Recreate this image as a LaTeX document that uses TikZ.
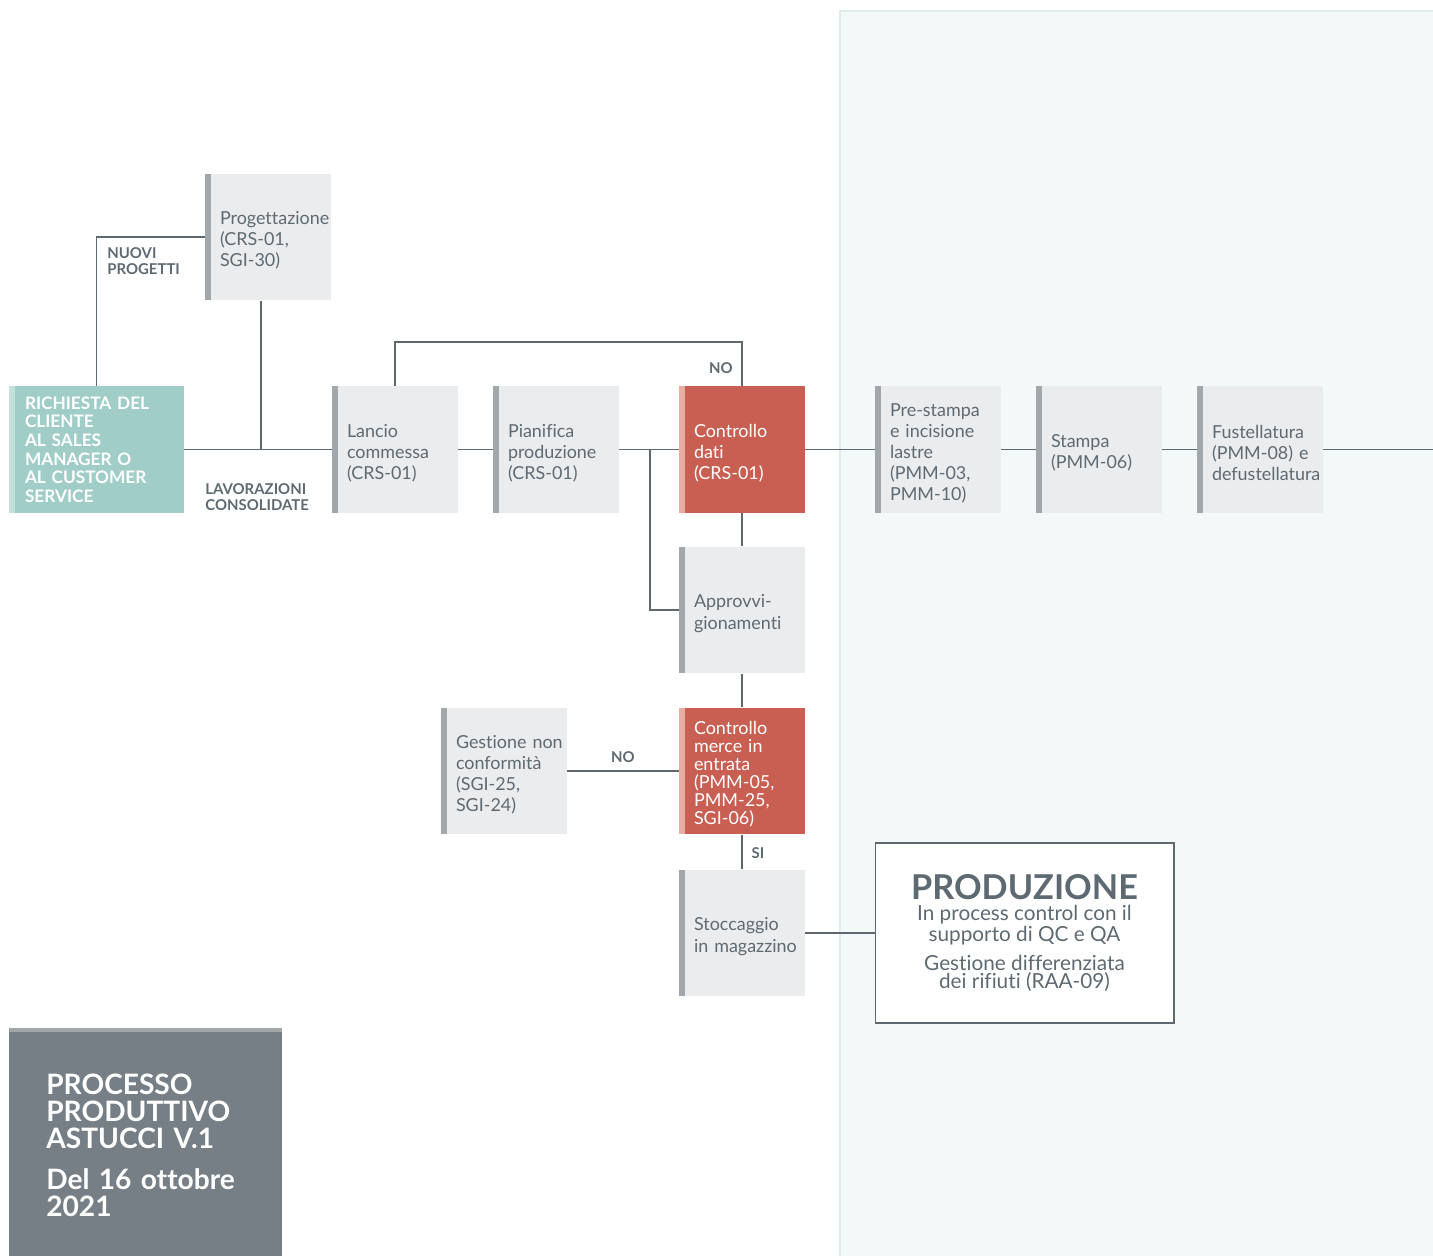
\documentclass[tikz,border=0pt]{standalone}
\usepackage{fontspec}
\setmainfont{Lato}[Ligatures=NoCommon]
\usepackage{tikz}
\usepackage{xcolor}

\definecolor{boxgray}{HTML}{EBECEE}
\definecolor{bargray}{HTML}{A2A7AB}
\definecolor{wiregray}{HTML}{5D6870}
\definecolor{textgray}{HTML}{5E6A72}
\definecolor{redbox}{HTML}{C95F52}
\definecolor{redbar}{HTML}{E6ADA3}
\definecolor{tealbox}{HTML}{A0CDC8}
\definecolor{tealbar}{HTML}{C2E0DC}
\definecolor{titlegray}{HTML}{767F85}
\definecolor{panel}{HTML}{F3F8F8}
\definecolor{panelline}{HTML}{E0EBEB}

\begin{document}
\begin{tikzpicture}[x=0.02cm, y=-0.02cm,
    stepbox/.style={rectangle, fill=boxgray, minimum width=2.52cm, minimum height=2.54cm,
        text width=2.52cm, inner xsep=0pt, inner ysep=0pt, align=left, text=textgray,
        font=\fontsize{10.2}{12}\selectfont,
        execute at begin node={\leftskip=0.3cm\rightskip=0pt plus 1fil\relax\rule{0pt}{11.5pt}},
        path picture={\fill[bargray] (path picture bounding box.north west)
            rectangle ([xshift=0.12cm]path picture bounding box.south west);}},
    checkbox/.style={stepbox, fill=redbox, text=white,
        path picture={\fill[redbar] (path picture bounding box.north west)
            rectangle ([xshift=0.12cm]path picture bounding box.south west);}},
    wire/.style={draw=wiregray, line width=0.7pt},
    tag/.style={text=textgray, font=\fontsize{8.5}{9.2}\selectfont\bfseries, inner sep=0pt, align=left}
]
    \useasboundingbox (0,0) rectangle (1433,1256);

    % production area
    \fill[panel] (840,11) rectangle (1433,1256);
    \draw[panelline, line width=0.8pt] (840,1256) -- (840,11) -- (1433,11);

    % boxes
    \node[rectangle, fill=tealbox, minimum width=3.5cm, minimum height=2.54cm, text width=3.5cm,
        inner xsep=0pt, inner ysep=0pt, align=left, text=white,
        font=\fontsize{9.8}{10.6}\selectfont\bfseries,
        execute at begin node={\leftskip=0.32cm\rightskip=0pt plus 1fil\relax},
        path picture={\fill[tealbar] (path picture bounding box.north west)
            rectangle ([xshift=0.12cm]path picture bounding box.south west);}]
        (richiesta) at (96.5,449.5) {RICHIESTA DEL\\CLIENTE\\AL SALES\\MANAGER O\\AL CUSTOMER\\SERVICE};
    \node[stepbox] (prog) at (268,237) {Progettazione\\(CRS-01,\\SGI-30)};
    \node[stepbox] (lancio) at (395,449.5) {Lancio\\commessa\\(CRS-01)};
    \node[stepbox] (pianifica) at (556,449.5) {Pianifica\\produzione\\(CRS-01)};
    \node[checkbox] (cdati) at (742,449.5) {Controllo\\dati\\(CRS-01)};
    \node[stepbox] (approv) at (742,610) {Approvvi-\\gionamenti};
    \node[checkbox, font=\fontsize{10.2}{10.2}\selectfont] (cmerce) at (742,771)
        {Controllo\\merce in\\entrata\\(PMM-05,\\PMM-25,\\SGI-06)};
    \node[stepbox] (nonconf) at (504,771) {Gestione non\\conformità\\(SGI-25,\\SGI-24)};
    \node[stepbox] (stocc) at (742,933) {Stoccaggio\\in magazzino};
    \node[stepbox] (prestampa) at (938,449.5) {Pre-stampa\\e incisione\\lastre\\(PMM-03,\\PMM-10)};
    \node[stepbox] (stampa) at (1099,449.5) {Stampa\\(PMM-06)};
    \node[stepbox] (fustella) at (1260,449.5) {Fustellatura\\(PMM-08) e\\defustellatura};
    \node[rectangle, draw=wiregray, line width=0.6pt, fill=white, minimum width=5.98cm,
        minimum height=3.6cm, align=center, text=textgray,
        font=\fontsize{11.8}{10.2}\selectfont]
        (produzione) at (1024.5,933)
        {{\fontsize{19.5}{20}\selectfont\bfseries PRODUZIONE}\\[2pt]
         In process control con il\\supporto di QC e QA\\[5pt]
         Gestione differenziata\\dei rifiuti (RAA-09)};

    % title
    \node[rectangle, anchor=north west, fill=titlegray, minimum width=5.46cm, minimum height=4.56cm,
        text width=5.46cm, inner xsep=0pt, inner ysep=0pt, align=left, text=white,
        font=\fontsize{16}{15.4}\selectfont\bfseries,
        execute at begin node={\leftskip=0.74cm\rightskip=0pt plus 1fil\relax\rule{0pt}{15.5pt}},
        path picture={\fill[bargray] (path picture bounding box.north west)
            rectangle ([yshift=-0.08cm]path picture bounding box.north east);}]
        (titolo) at (9,1028) {PROCESSO\\PRODUTTIVO\\ASTUCCI V.1\\[8pt]Del 16 ottobre\\2021};

    % connectors
    \coordinate (join) at (261,449.5);
    \coordinate (split) at (650,449.5);
    \coordinate (loop) at (742,342);
    \coordinate (fine) at (1433,449.5);

    \draw[wire] (richiesta) -- (lancio);
    \draw[wire] (prog.south -| join) -- (join);
    \draw[wire] (richiesta.north) |- (prog.west);
    \draw[wire] (lancio.north) |- (loop) -- (cdati.north);
    \draw[wire] (lancio) -- (pianifica);
    \draw[wire] (pianifica) -- (cdati);
    \draw[wire] (split) |- (approv.west);
    \draw[wire] (cdati) -- (approv);
    \draw[wire] (approv) -- (cmerce);
    \draw[wire] (cmerce) -- (nonconf);
    \draw[wire] (cmerce) -- (stocc);
    \draw[wire] (stocc) -- (produzione);
    \draw[wire] (cdati) -- (prestampa);
    \draw[wire] (prestampa) -- (stampa);
    \draw[wire] (stampa) -- (fustella);
    \draw[wire] (fustella) -- (fine);

    % labels
    \node[tag, anchor=north west] (nuovi) at (107,247) {NUOVI\\PROGETTI};
    \node[tag, anchor=north west] (consolidate) at (205,483) {LAVORAZIONI\\CONSOLIDATE};
    \node[tag] (no1) at (721,368) {NO};
    \node[tag] (no2) at (623,757) {NO};
    \node[tag] (si) at (758,853) {SI};
\end{tikzpicture}
\end{document}
